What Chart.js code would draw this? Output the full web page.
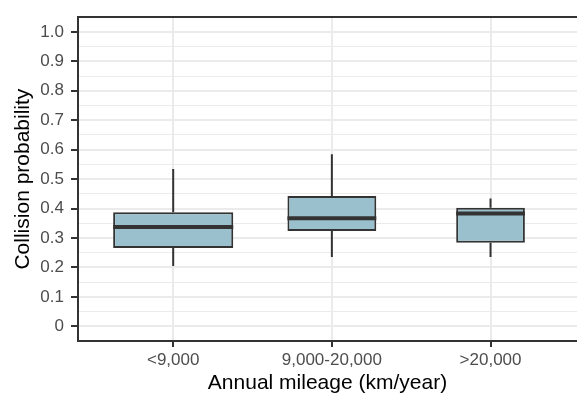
<!DOCTYPE html>
<html>
<head>
<meta charset="utf-8">
<script src="https://cdn.jsdelivr.net/npm/chart.js@4.4.1/dist/chart.umd.min.js"></script>
<style>
  html, body { margin: 0; padding: 0; background: #fff; overflow: hidden; }
  #wrap { width: 577px; height: 395px; position: relative; }
</style>
</head>
<body>
<div id="wrap"><canvas id="chart"></canvas></div>
<script>
// data
var categories = ['<9,000', '9,000-20,000', '>20,000'];
var whiskerLow = [0.205, 0.235, 0.235];
var q1 = [0.266, 0.324, 0.284];
var median = [0.337, 0.367, 0.383];
var q3 = [0.387, 0.443, 0.403];
var whiskerHigh = [0.534, 0.584, 0.434];
var yTicks = [0, 0.1, 0.2, 0.3, 0.4, 0.5, 0.6, 0.7, 0.8, 0.9, 1.0];
var yTickLabels = ['0', '0.1', '0.2', '0.3', '0.4', '0.5', '0.6', '0.7', '0.8', '0.9', '1.0'];

// relative box widths (varwidth)
var boxWidth = [0.757, 0.56, 0.433];

document.addEventListener('DOMContentLoaded', function() {
  Chart.defaults.font.family = '"Liberation Sans", Arial, sans-serif';
  Chart.defaults.animation = false;

  var dark = '#333333';
  var fill = '#9AC0CD';
  var gridCol = '#EBEBEB';

  var datasets = [];

  // boxes: one dataset per category so each can have its own width
  categories.forEach(function(c, i) {
    datasets.push({
      type: 'bar',
      xAxisID: 'x',
      data: [{ x: i + 1, y: [q1[i], q3[i]] }],
      backgroundColor: fill,
      borderColor: dark,
      borderWidth: 2,
      borderSkipped: false,
      grouped: false,
      categoryPercentage: 1,
      barPercentage: boxWidth[i],
      order: 2
    });
  });

  // whiskers
  var whiskerPts = [];
  categories.forEach(function(c, i) {
    whiskerPts.push({ x: i + 1, y: whiskerHigh[i] }, { x: i + 1, y: q3[i] }, { x: i + 1, y: null });
    whiskerPts.push({ x: i + 1, y: q1[i] }, { x: i + 1, y: whiskerLow[i] }, { x: i + 1, y: null });
  });
  datasets.push({
    type: 'line',
    xAxisID: 'x',
    data: whiskerPts,
    borderColor: dark,
    borderWidth: 2,
    borderCapStyle: 'butt',
    pointRadius: 0,
    spanGaps: false,
    order: 1
  });

  // medians
  var medianPts = [];
  categories.forEach(function(c, i) {
    medianPts.push({ x: i + 1 - boxWidth[i] / 2, y: median[i] }, { x: i + 1 + boxWidth[i] / 2, y: median[i] }, { x: i + 1, y: null });
  });
  datasets.push({
    type: 'line',
    xAxisID: 'x',
    data: medianPts,
    borderColor: dark,
    borderWidth: 4,
    borderCapStyle: 'butt',
    pointRadius: 0,
    spanGaps: false,
    order: 0
  });

  var ctx = document.getElementById('chart').getContext('2d');
  new Chart(ctx, {
    type: 'bar',
    data: { datasets: datasets },
    options: {
      responsive: true,
      maintainAspectRatio: false,
      layout: { padding: { top: 13, left: 0, right: 0, bottom: 0 } },
      plugins: { legend: { display: false }, tooltip: { enabled: false } },
      scales: {
        x: {
          type: 'linear',
          position: 'bottom',
          offset: false,
          min: 0.4,
          max: 3.545,
          afterBuildTicks: function(s) {
            s.ticks = categories.map(function(c, i) { return { value: i + 1 }; });
          },
          afterFit: function(s) { s.height = 54; },
          ticks: {
            color: '#4D4D4D',
            font: { size: 17 },
            padding: 3,
            maxRotation: 0,
            autoSkip: false,
            callback: function(v) { return categories[Math.round(v) - 1]; }
          },
          grid: {
            offset: false,
            color: gridCol,
            lineWidth: 2,
            tickColor: dark,
            tickWidth: 2,
            tickLength: 6
          },
          border: { color: dark, width: 2 },
          title: {
            display: true,
            text: 'Annual mileage (km/year)',
            color: '#000',
            font: { size: 21 },
            padding: { top: 0, bottom: -1 }
          }
        },
        x2: {
          type: 'linear',
          position: 'top',
          offset: false,
          afterFit: function(s) { s.height = 0; },
          ticks: { display: false },
          grid: { offset: false, drawOnChartArea: false, drawTicks: false },
          border: { color: dark, width: 2 }
        },
        y: {
          min: -0.05,
          max: 1.05,
          afterBuildTicks: function(s) {
            var t = [];
            yTicks.forEach(function(v, k) {
              t.push({ value: v, label: yTickLabels[k] });
              if (k < yTicks.length - 1) t.push({ value: (v + yTicks[k + 1]) / 2, minor: true });
            });
            s.ticks = t;
          },
          afterFit: function(s) { s.width = 78; },
          ticks: {
            color: '#4D4D4D',
            font: { size: 17 },
            padding: 7,
            autoSkip: false,
            callback: function(v, i, ticks) { return ticks[i].minor ? '' : ticks[i].label; }
          },
          grid: {
            color: gridCol,
            lineWidth: function(c) { return c.tick && c.tick.minor ? 1 : 2; },
            tickColor: function(c) { return c.tick && c.tick.minor ? 'rgba(0,0,0,0)' : dark; },
            tickWidth: 2,
            tickLength: 7
          },
          border: { color: dark, width: 2 },
          title: {
            display: true,
            text: 'Collision probability',
            color: '#000',
            font: { size: 21 },
            padding: { top: 11, bottom: 0 }
          }
        }
      }
    }
  });
});
</script>
</body>
</html>
